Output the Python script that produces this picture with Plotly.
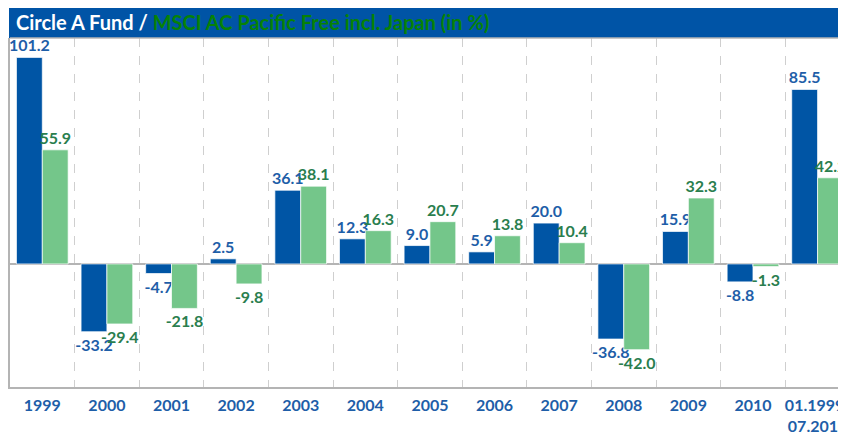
import plotly.graph_objects as go

categories = ["1999", "2000", "2001", "2002", "2003", "2004", "2005", "2006",
              "2007", "2008", "2009", "2010", "01.1999-<br>07.2010"]
fund = [101.2, -33.2, -4.7, 2.5, 36.1, 12.3, 9.0, 5.9, 20.0, -36.8, 15.9, -8.8, 85.5]
msci = [55.9, -29.4, -21.8, -9.8, 38.1, 16.3, 20.7, 13.8, 10.4, -42.0, 32.3, -1.3, 42.2]
title_a = "Circle A Fund / "
title_b = "MSCI AC Pacific Free incl. Japan (in %)"

BLUE = "#0055A5"
GREEN = "#74C68A"
BLUE_TXT = "#1E5EA8"
GREEN_TXT = "#2A7E4E"
FONT = "Lato"

fig = go.Figure()
fig.add_trace(go.Bar(
    x=categories, y=fund, name="Circle A Fund",
    marker=dict(color=BLUE, line=dict(color="rgba(255,255,255,0.7)", width=1)),
    text=[f"{v:.1f}" for v in fund], textposition="outside",
    textangle=0, constraintext="none",
    textfont=dict(color=BLUE_TXT, size=16, family=FONT, weight="bold"),
    cliponaxis=True,
))
fig.add_trace(go.Bar(
    x=categories, y=msci, name="MSCI",
    marker=dict(color=GREEN, line=dict(color="rgba(255,255,255,0.7)", width=1)),
    text=[f"{v:.1f}" for v in msci], textposition="outside",
    textangle=0, constraintext="none",
    textfont=dict(color=GREEN_TXT, size=16, family=FONT, weight="bold"),
    cliponaxis=True,
))

fig.update_layout(
    width=838, height=429,
    margin=dict(l=2, r=0, t=30, b=50, autoexpand=False),
    paper_bgcolor="white", plot_bgcolor="white",
    showlegend=False,
    barmode="group", bargap=0.2, bargroupgap=0,
    font=dict(family=FONT),
    xaxis=dict(
        type="category",
        range=[-0.5, 12.44],
        tickson="boundaries",
        tickangle=0, automargin=False,
        showgrid=True, gridcolor="#CFCFCF", griddash="dash", gridwidth=1,
        showline=True, linecolor="#B4B4B4", linewidth=1.5,
        ticks="", ticklen=0, ticklabelstandoff=3,
        tickfont=dict(color=BLUE_TXT, size=16, family=FONT, weight="bold"),
    ),
    yaxis=dict(
        range=[-60.3, 110.7], automargin=False,
        showgrid=False, showticklabels=False, ticks="",
        zeroline=True, zerolinecolor="#B4B4B4", zerolinewidth=1.5,
        showline=True, linecolor="#B4B4B4", linewidth=1.5, mirror=False,
    ),
    shapes=[
        dict(type="rect", xref="paper", yref="paper",
             x0=-1 / 836, x1=1.02, y0=1.0, y1=1.0 + 31 / 349,
             fillcolor="#0054A6", line=dict(width=0), layer="above"),
        dict(type="line", xref="paper", yref="paper",
             x0=0, x1=1, y0=1, y1=1,
             line=dict(color="#B4B4B4", width=1.5)),
    ],
    annotations=[
        dict(xref="paper", yref="paper", x=4 / 836, y=1 + 16 / 349,
             xanchor="left", yanchor="middle", showarrow=False,
             text=f"<b>{title_a}<span style='color:#078207'>{title_b}</span></b>",
             font=dict(color="white", size=20, family=FONT)),
    ],
)

fig.write_html("out.html")
